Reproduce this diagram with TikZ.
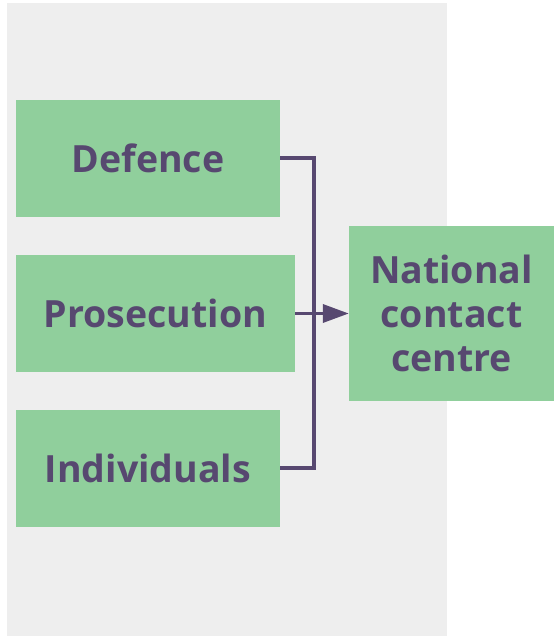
\documentclass[tikz,border=0pt]{standalone}
\usepackage{fontspec}
\setmainfont{Open Sans}
\usetikzlibrary{arrows.meta}
\definecolor{panelgray}{HTML}{EEEEEE}
\definecolor{boxgreen}{HTML}{90CF9C}
\definecolor{inkpurple}{HTML}{574870}
\begin{document}
\begin{tikzpicture}[x=1pt,y=-1pt,
  card/.style={fill=boxgreen, draw=none, inner sep=0pt, text=inkpurple,
    font=\fontsize{37.5}{44}\selectfont\bfseries, align=center},
  link/.style={draw=inkpurple, line width=3.5pt}]
  \useasboundingbox (0,0) rectangle (554,636);
  \fill[panelgray] (7,3) rectangle (447,636);
  \node[card, minimum width=264pt, minimum height=117pt] (def) at (148,158.5) {Defence};
  \node[card, minimum width=279pt, minimum height=117pt] (pro) at (155.5,313.5) {Prosecution};
  \node[card, minimum width=264pt, minimum height=117pt] (ind) at (148,468.5) {Individuals};
  \node[card, minimum width=205pt, minimum height=175pt] (ncc) at (451.5,313.5) {National\\contact\\centre};
  \coordinate (jt) at (314,158);
  \coordinate (jb) at (314,468);
  \draw[link] (def.east |- jt) -- (jt) -- (jb) -- (ind.east |- jb);
  \draw[link, -{Triangle[length=26pt,width=18pt]}] (pro.east) -- (ncc.west);
\end{tikzpicture}
\end{document}
